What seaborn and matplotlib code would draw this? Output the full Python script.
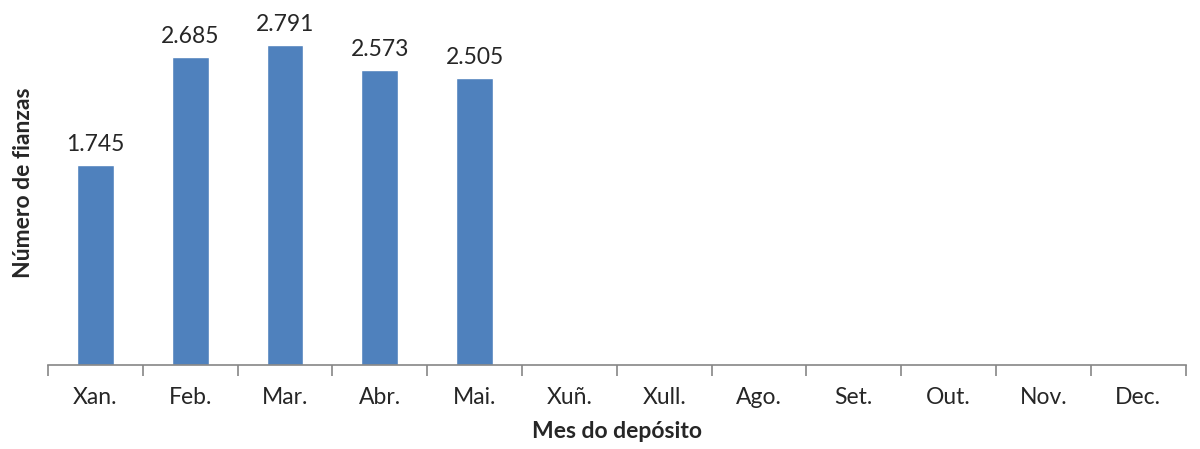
import matplotlib
matplotlib.use("Agg")
import matplotlib.pyplot as plt
import seaborn as sns
import numpy as np
import pandas as pd

months = ["Xan.", "Feb.", "Mar.", "Abr.", "Mai.", "Xuñ.", "Xull.", "Ago.", "Set.", "Out.", "Nov.", "Dec."]
values = [1745, 2685, 2791, 2573, 2505, None, None, None, None, None, None, None]
value_labels = ["1.745", "2.685", "2.791", "2.573", "2.505", "", "", "", "", "", "", ""]

sns.set_style("white")
plt.rcParams['font.family'] = ['Lato', 'DejaVu Sans']

df = pd.DataFrame({"mes": months, "n": [np.nan if v is None else v for v in values]})

fig = plt.figure(figsize=(12, 4.49), dpi=100)
ax = fig.add_axes([0.04, 0.187, 0.948, 0.813])
sns.barplot(data=df, x="mes", y="n", order=months, color="#4F81BD", saturation=1,
            width=0.39, ax=ax)
ax.set_xlim(-0.5, 11.5)
ax.set_ylim(0, 3182)

for p, lab in zip([p for p in ax.containers[0] if p is not None],
                  [l for l in value_labels if l]):
    ax.annotate(lab, (p.get_x() + p.get_width() / 2, p.get_height()),
                xytext=(0, 7), textcoords="offset points", ha="center", va="bottom",
                fontsize=16.5)

for s in ["top", "right", "left"]:
    ax.spines[s].set_visible(False)
ax.spines["bottom"].set_color("#868686")
ax.spines["bottom"].set_linewidth(1.2)
ax.set_yticks([])
ax.set_xticks(np.arange(-0.5, 12, 1), minor=True)
ax.tick_params(axis="x", which="major", length=0, labelsize=16.5, pad=16)
ax.tick_params(axis="x", which="minor", length=8, width=1.2, color="#868686", bottom=True)
ax.set_xlabel("Mes do depósito", fontsize=16.5, fontweight="bold", labelpad=9)
ax.set_ylabel("Número de fianzas", fontsize=16.5, fontweight="bold", labelpad=10)

fig.savefig("out.png", dpi=100)
